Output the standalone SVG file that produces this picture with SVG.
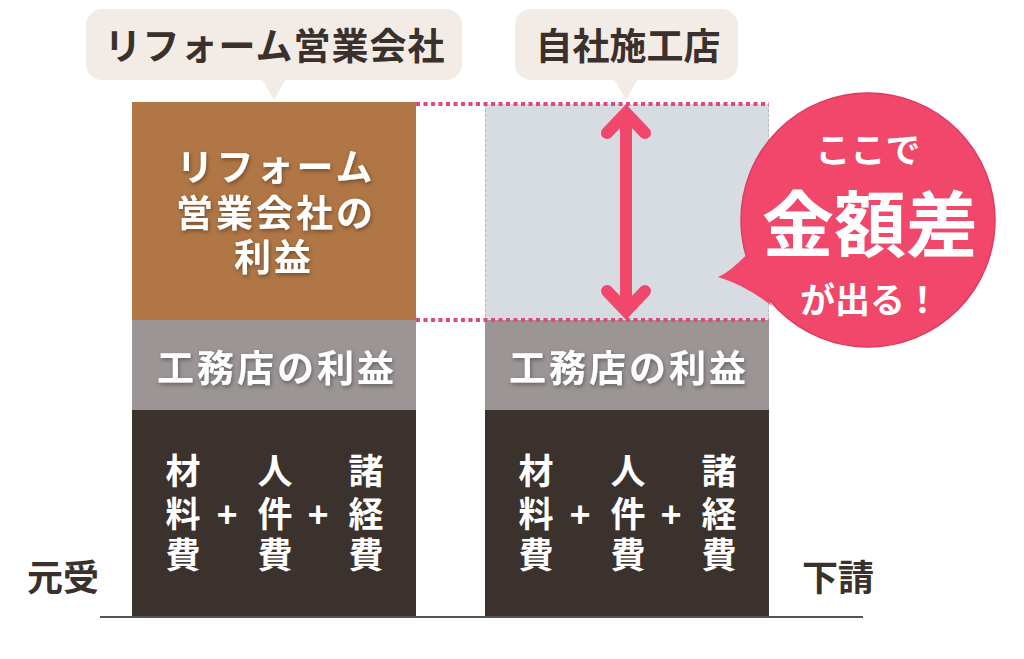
<svg xmlns="http://www.w3.org/2000/svg" width="1024" height="659" viewBox="0 0 1024 659">
<defs>
<style>
.t{font-family:"Noto Sans CJK JP","Noto Sans CJK SC",sans-serif;font-weight:700;}
.w{fill:#ffffff;}
.d{fill:#3a302c;}
.tag{fill:#f2ebe6;}
.dot{stroke:#e2497a;stroke-width:4;stroke-dasharray:4 3.5;fill:none;}
.arr{stroke:#f0476a;stroke-width:12;fill:none;}
</style>
<filter id="sh" x="-10%" y="-30%" width="120%" height="160%">
<feDropShadow dx="1" dy="2" stdDeviation="2" flood-color="#000" flood-opacity="0.35"/>
</filter>
</defs>
<rect width="1024" height="659" fill="#ffffff"/>

<g id="tag-reform">
<rect class="tag" x="86" y="9" width="376" height="71" rx="16"/>
<polygon class="tag" points="262,79 286,79 274,100"/>
<text class="t d" x="275" y="60" font-size="37" text-anchor="middle" letter-spacing="1">リフォーム営業会社</text>
</g>

<g id="tag-jisha">
<rect class="tag" x="515" y="9" width="223" height="71" rx="16"/>
<polygon class="tag" points="614,79 638,79 626,100"/>
<text class="t d" x="628" y="60" font-size="37" text-anchor="middle">自社施工店</text>
</g>

<g id="col-left">
<rect x="132" y="102" width="284" height="218" fill="#b07645"/>
<rect x="132" y="320" width="284" height="90" fill="#9b9595"/>
<rect x="132" y="410" width="284" height="207" fill="#3b312d"/>
<g filter="url(#sh)">
<text class="t w" font-size="37" text-anchor="middle" letter-spacing="3"><tspan x="276" y="181">リフォーム</tspan><tspan x="276" y="227">営業会社の</tspan><tspan x="274" y="271">利益</tspan></text>
<text class="t w" x="277" y="382" font-size="37" text-anchor="middle" letter-spacing="3">工務店の利益</text>
</g>
<g class="t w" font-size="35" text-anchor="middle">
<text><tspan x="183" y="484">材</tspan><tspan x="183" y="527">料</tspan><tspan x="183" y="568">費</tspan></text>
<text><tspan x="275" y="484">人</tspan><tspan x="275" y="527">件</tspan><tspan x="275" y="568">費</tspan></text>
<text><tspan x="366" y="484">諸</tspan><tspan x="366" y="527">経</tspan><tspan x="366" y="568">費</tspan></text>
<text x="227" y="528">+</text><text x="318" y="528">+</text>
</g>
</g>

<g id="col-right">
<rect x="485" y="104" width="284" height="216" fill="#d7dbe2"/>
<line x1="485.5" y1="104" x2="485.5" y2="320" stroke="#b9bcc3" stroke-width="1" stroke-dasharray="3 2"/>
<line x1="768.5" y1="104" x2="768.5" y2="320" stroke="#b9bcc3" stroke-width="1" stroke-dasharray="3 2"/>
<rect x="485" y="320" width="284" height="90" fill="#9b9595"/>
<rect x="485" y="410" width="284" height="207" fill="#3b312d"/>
<g filter="url(#sh)">
<text class="t w" x="629" y="382" font-size="37" text-anchor="middle" letter-spacing="3">工務店の利益</text>
</g>
<g class="t w" font-size="35" text-anchor="middle">
<text><tspan x="536" y="484">材</tspan><tspan x="536" y="527">料</tspan><tspan x="536" y="568">費</tspan></text>
<text><tspan x="628" y="484">人</tspan><tspan x="628" y="527">件</tspan><tspan x="628" y="568">費</tspan></text>
<text><tspan x="719" y="484">諸</tspan><tspan x="719" y="527">経</tspan><tspan x="719" y="568">費</tspan></text>
<text x="580" y="528">+</text><text x="671" y="528">+</text>
</g>
</g>

<g id="connectors">
<line class="dot" x1="416" y1="104" x2="769" y2="104"/>
<line class="dot" x1="416" y1="320" x2="769" y2="320"/>
<line class="arr" x1="626" y1="114" x2="626" y2="310" stroke-linecap="round"/>
<polyline class="arr" points="607,133 626,113 645,133" stroke-linecap="round" stroke-linejoin="miter"/>
<polyline class="arr" points="607,291 626,311 645,291" stroke-linecap="round" stroke-linejoin="miter"/>
<line x1="100" y1="617" x2="863" y2="617" stroke="#5a5350" stroke-width="2"/>
</g>

<g id="callout">
<path d="M745,256 Q730,272 718,277 Q745,285 772,306 Z" fill="#f0476a"/>
<circle cx="868" cy="220" r="127" fill="#f0476a" stroke="#dd3c60" stroke-width="1.5"/>
<path d="M747,258 Q732,272 722,277 Q746,284 770,302 Z" fill="#f0476a"/>
<text class="t w" x="868" y="163" font-size="35" text-anchor="middle">ここで</text>
<text class="t w" x="870" y="251" font-size="72" text-anchor="middle">金額差</text>
<text class="t w" x="870" y="313" font-size="35" text-anchor="middle">が出る！</text>
</g>

<g id="label-motouke">
<text class="t d" x="63" y="591" font-size="36" text-anchor="middle">元受</text>
</g>
<g id="label-shitauke">
<text class="t d" x="838" y="591" font-size="36" text-anchor="middle">下請</text>
</g>
</svg>
